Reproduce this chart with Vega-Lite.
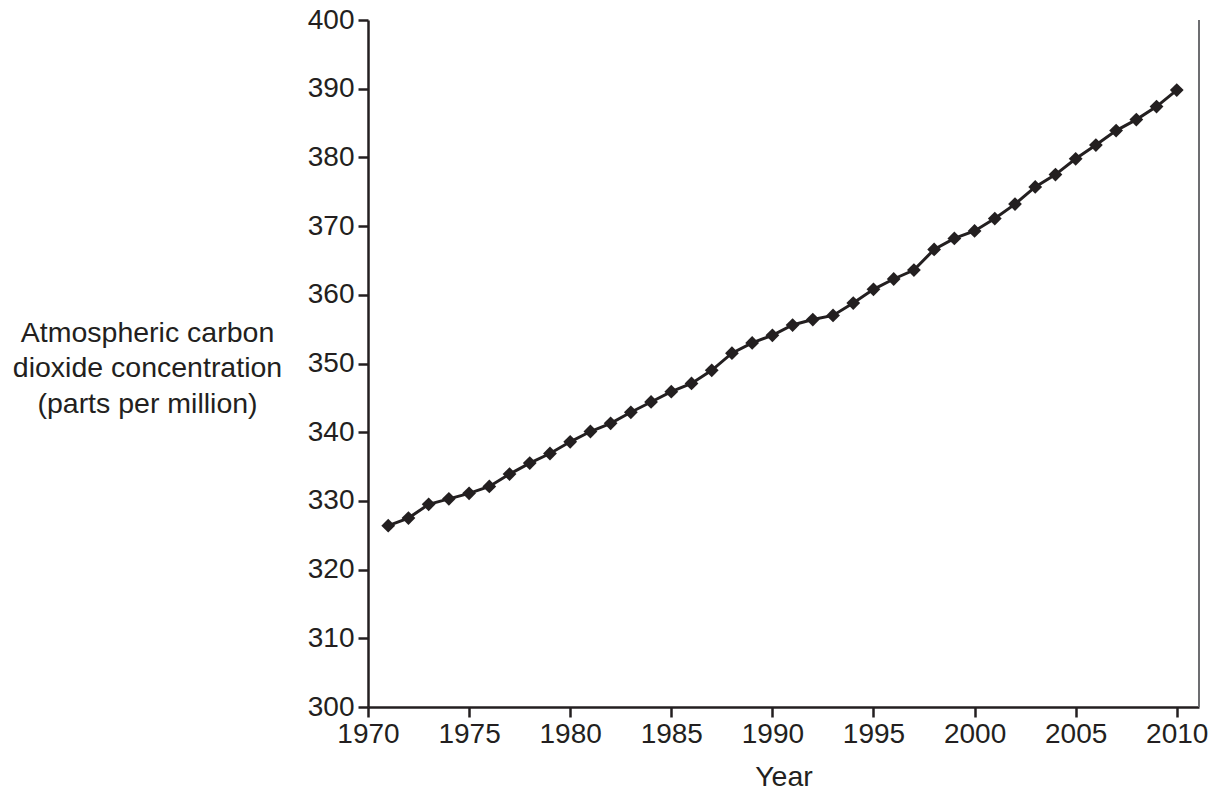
{
  "$schema": "https://vega.github.io/schema/vega-lite/v6.json",
  "width": 831,
  "height": 687,
  "autosize": {"type": "none"},
  "padding": {"left": 368, "top": 20, "right": 20, "bottom": 87},
  "background": "white",
  "config": {
    "view": {"stroke": null},
    "font": "Liberation Sans",
    "axis": {
      "labelFont": "Liberation Sans",
      "titleFont": "Liberation Sans",
      "labelFontSize": 28,
      "titleFontSize": 28.5,
      "titleFontWeight": "normal",
      "labelColor": "#231f20",
      "titleColor": "#231f20",
      "domainColor": "#231f20",
      "tickColor": "#231f20",
      "domainWidth": 2.5,
      "tickWidth": 2.5,
      "tickSize": 10,
      "grid": false
    }
  },
  "data": {
    "values": [
      {"year": 1971, "co2": 326.4},
      {"year": 1972, "co2": 327.5},
      {"year": 1973, "co2": 329.5},
      {"year": 1974, "co2": 330.3},
      {"year": 1975, "co2": 331.1},
      {"year": 1976, "co2": 332.1},
      {"year": 1977, "co2": 333.9},
      {"year": 1978, "co2": 335.5},
      {"year": 1979, "co2": 336.9},
      {"year": 1980, "co2": 338.6},
      {"year": 1981, "co2": 340.1},
      {"year": 1982, "co2": 341.3},
      {"year": 1983, "co2": 342.9},
      {"year": 1984, "co2": 344.4},
      {"year": 1985, "co2": 345.9},
      {"year": 1986, "co2": 347.1},
      {"year": 1987, "co2": 349.0},
      {"year": 1988, "co2": 351.5},
      {"year": 1989, "co2": 353.0},
      {"year": 1990, "co2": 354.1},
      {"year": 1991, "co2": 355.6},
      {"year": 1992, "co2": 356.4},
      {"year": 1993, "co2": 357.0},
      {"year": 1994, "co2": 358.8},
      {"year": 1995, "co2": 360.8},
      {"year": 1996, "co2": 362.3},
      {"year": 1997, "co2": 363.6},
      {"year": 1998, "co2": 366.6},
      {"year": 1999, "co2": 368.2},
      {"year": 2000, "co2": 369.3},
      {"year": 2001, "co2": 371.1},
      {"year": 2002, "co2": 373.2},
      {"year": 2003, "co2": 375.7},
      {"year": 2004, "co2": 377.5},
      {"year": 2005, "co2": 379.8},
      {"year": 2006, "co2": 381.8},
      {"year": 2007, "co2": 383.9},
      {"year": 2008, "co2": 385.5},
      {"year": 2009, "co2": 387.4},
      {"year": 2010, "co2": 389.8}
    ]
  },
  "encoding": {
    "x": {
      "field": "year",
      "type": "quantitative",
      "scale": {"domain": [1970, 2011.1], "nice": false, "zero": false},
      "axis": {
        "values": [1970, 1975, 1980, 1985, 1990, 1995, 2000, 2005, 2010],
        "format": "d",
        "labelPadding": 3,
        "labelFlush": false,
        "labelOverlap": false,
        "title": "Year",
        "titlePadding": 14
      }
    },
    "y": {
      "field": "co2",
      "type": "quantitative",
      "scale": {"domain": [300, 400], "nice": false, "zero": false},
      "axis": {
        "values": [300, 310, 320, 330, 340, 350, 360, 370, 380, 390, 400],
        "labelPadding": 4,
        "labelFlush": false,
        "labelOverlap": false,
        "title": ["Atmospheric carbon", "dioxide concentration", "(parts per million)"],
        "titleAngle": 0,
        "titleAlign": "center",
        "titleBaseline": "middle",
        "titleX": -221,
        "titleY": 312,
        "titleLineHeight": 35.5
      }
    }
  },
  "layer": [
    {
      "mark": {"type": "rule", "color": "#6d6e71", "strokeWidth": 2},
      "encoding": {
        "x": {"datum": 2011.1, "type": "quantitative"},
        "y": {"datum": 300, "type": "quantitative"},
        "y2": {"datum": 400}
      }
    },
    {
      "mark": {"type": "line", "color": "#231f20", "strokeWidth": 3}
    },
    {
      "mark": {"type": "point", "shape": "diamond", "filled": true, "opacity": 1, "color": "#231f20", "size": 190}
    }
  ]
}
